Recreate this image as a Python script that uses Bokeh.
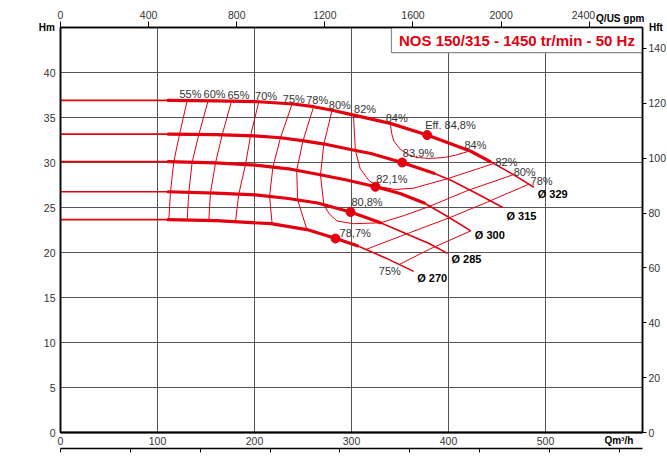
import numpy as np
from bokeh.plotting import figure
from bokeh.models import Range1d, LinearAxis, FixedTicker
from bokeh.core.properties import value
from bokeh.embed import file_html
from bokeh.resources import INLINE

RED = "#e3000f"
FONT = "Liberation Sans"
NB = "\u00a0"

# ---------------- data (Q in m3/h, H in m) ----------------
diameters = ["Ø 329", "Ø 315", "Ø 300", "Ø 285", "Ø 270"]

q_329 = [0, 50, 111, 160, 204, 240, 261, 280, 299, 340, 378, 423, 443, 467, 488]
h_329 = [36.9, 36.9, 36.9, 36.85, 36.75, 36.5, 36.2, 35.8, 35.35, 34.35, 33.05, 31.25, 30.1, 28.65, 27.25]
q_315 = [0, 60, 111, 160, 200, 227, 251, 272, 299, 320, 352, 385, 403, 430, 456]
h_315 = [33.15, 33.15, 33.15, 33.1, 32.95, 32.75, 32.4, 32.05, 31.45, 31.0, 30.0, 28.8, 28.0, 26.5, 25.0]
q_300 = [0, 60, 111, 160, 201, 235, 265, 295, 325, 350, 375, 399, 423]
h_300 = [30.1, 30.1, 30.1, 29.95, 29.7, 29.3, 28.7, 28.05, 27.3, 26.55, 25.5, 24.0, 22.4]
q_285 = [0, 60, 111, 160, 201, 235, 265, 299, 330, 354, 380, 399]
h_285 = [26.75, 26.75, 26.75, 26.6, 26.4, 26.0, 25.5, 24.5, 23.3, 22.2, 21.0, 19.9]
q_270 = [0, 60, 111, 160, 217, 254, 284, 306, 335, 364]
h_270 = [23.65, 23.65, 23.65, 23.55, 23.2, 22.55, 21.55, 20.75, 19.4, 17.9]

curves_q = [q_329, q_315, q_300, q_285, q_270]
curves_h = [h_329, h_315, h_300, h_285, h_270]
thick_from = [111, 111, 111, 111, 111]
thick_to = [443, 385, 375, 330, 306]

# best efficiency points
bep_q = [378, 352.3, 324.7, 299, 283.5]
bep_h = [33.05, 30.0, 27.3, 24.5, 21.55]

# iso-efficiency lines (left side): Q where the line crosses each curve (329..270)
eff_55 = [130.6, 122.7, 116.8, 113.4, 111.7]
eff_60 = [152.2, 142.6, 135.7, 132.3, 130.6]
eff_65 = [176.3, 166.7, 159.8, 154.6, 152.9]
eff_70 = [204.4, 195.9, 190.7, 183.8, 180.4]
eff_75 = [238.8, 226.8, 219.0, 215.5, 218.2]
eff_78 = [261.0, 250.0, 243.5, 244.5, 254.0]
left_iso = [eff_55, eff_60, eff_65, eff_70, eff_75, eff_78]

# closed / right-side iso-efficiency contours
eff80_q = [280, 271.5, 268, 271.5, 277, 285, 302, 330, 354, 380, 420, 467]
eff80_h = [35.8, 32.05, 28.65, 25.3, 24.3, 23.5, 23.2, 23.3, 24.1, 25.1, 26.9, 28.65]
eff82_q = [302, 304, 309, 318, 327, 345, 364, 399, 433, 447]
eff82_h = [35.35, 31.35, 29.3, 28.0, 27.35, 27.0, 27.15, 28.2, 29.4, 29.9]
eff84_q = [340, 341.5, 343.6, 350, 357.5, 367.7, 380, 395, 407, 419.3, 422.7]
eff84_h = [34.35, 33.2, 32.4, 31.5, 30.9, 30.55, 30.45, 30.55, 30.8, 31.2, 31.25]
eff78r_q = [314, 360, 402, 440, 483]
eff78r_h = [20.3, 22.2, 23.9, 25.6, 27.6]
eff75r_q = [349, 381, 423]
eff75r_h = [18.65, 20.4, 22.4]

# efficiency labels
eff_lbl = ["55%", "60%", "65%", "70%", "75%", "78%", "80%", "82%", "84%", "Eff. 84,8%",
           "84%", "83,9%", "82%", "80%", "78%", "82,1%", "80,8%", "78,7%", "75%"]
eff_lbl_q = [134, 158.8, 183.5, 211.9, 240.5, 264.6, 288, 314, 346.6, 402,
             427.8, 369, 459.8, 478.5, 496, 341.6, 316, 303.8, 339.5]
eff_lbl_h = [37.6, 37.6, 37.5, 37.4, 37.1, 36.9, 36.4, 35.9, 35.0, 34.2,
             32.0, 31.1, 30.1, 29.0, 27.9, 28.2, 25.6, 22.2, 18.0]

# diameter labels
dia_q = [492, 459.8, 427.1, 403, 367.7]
dia_h = [26.5, 24.1, 21.9, 19.3, 17.2]

# axes
q_ticks = [0, 100, 200, 300, 400, 500]
q_grid = [100, 200, 300, 400, 500]
h_ticks = [0, 5, 10, 15, 20, 25, 30, 35, 40]
h_grid = [5, 10, 15, 20, 25, 30, 35, 40]
gpm_ticks = [0, 400, 800, 1200, 1600, 2000, 2400]
hft_ticks = [0, 20, 40, 60, 80, 100, 120, 140]
ls_ticks = [0, 20, 40, 60, 80, 100, 120, 140, 160]
Q_MAX, H_MAX = 600, 45
GPM_PER_M3H = 4.40287
FT_PER_M = 3.28084
M3H_PER_LS = 3.6

title = "NOS 150/315 - 1450 tr/min - 50 Hz"
cap_left, cap_right, cap_top, cap_bottom = "Hm", "Hft", "Q/US gpm", "Qm³/h"

# ---------------- figure ----------------
p = figure(width=667, height=459, x_range=Range1d(0, Q_MAX), y_range=Range1d(0, H_MAX),
           output_backend="svg", toolbar_location=None,
           min_border_left=60, min_border_right=25, min_border_top=27, min_border_bottom=27)
p.extra_x_ranges = {"gpm": Range1d(0, Q_MAX * GPM_PER_M3H), "ls": Range1d(0, Q_MAX / M3H_PER_LS)}
p.extra_y_ranges = {"hft": Range1d(0, H_MAX * FT_PER_M)}
p.outline_line_color = "black"
p.outline_line_width = 1.5
p.background_fill_color = "white"


def style(ax, tick_out, standoff, size="10.5px"):
    ax.major_tick_out = tick_out
    ax.major_tick_in = 0
    ax.minor_tick_out = 0
    ax.minor_tick_in = 0
    ax.major_label_standoff = standoff
    ax.major_label_text_font = FONT
    ax.major_label_text_font_size = size
    ax.major_label_text_color = "#333333"
    ax.axis_line_color = "black"
    ax.axis_line_width = 1.5
    ax.major_tick_line_color = "black"


def caption(ax, text, standoff, orientation=None):
    ax.axis_label = text
    ax.axis_label_text_font = FONT
    ax.axis_label_text_font_size = "10px"
    ax.axis_label_text_font_style = "bold"
    ax.axis_label_text_color = "black"
    ax.axis_label_standoff = standoff
    ax.axis_label_align = "end"
    if orientation:
        ax.axis_label_orientation = orientation


xa = p.xaxis[0]
xa.ticker = FixedTicker(ticks=q_ticks)
style(xa, 0, 4)
xa.axis_line_width = 2
caption(xa, cap_bottom + NB * 17, -13)
ya = p.yaxis[0]
ya.ticker = FixedTicker(ticks=h_ticks)
style(ya, 0, 5)
caption(ya, cap_left, -14, "horizontal")

top = LinearAxis(x_range_name="gpm", ticker=FixedTicker(ticks=gpm_ticks))
style(top, 6, 1)
top.major_label_overrides = {2400: "2400" + NB * 4}
caption(top, cap_top + NB * 16, -18)
p.add_layout(top, "above")

right = LinearAxis(y_range_name="hft", ticker=FixedTicker(ticks=hft_ticks))
style(right, 4, 2)
caption(right, cap_right, -20, "horizontal")
p.add_layout(right, "right")

ls_ax = LinearAxis(x_range_name="ls", ticker=FixedTicker(ticks=ls_ticks))
style(ls_ax, 4, 0, size="0px")
ls_ax.major_label_overrides = {t: "" for t in ls_ticks}
p.add_layout(ls_ax, "below")

p.xgrid.ticker = FixedTicker(ticks=q_grid)
p.ygrid.ticker = FixedTicker(ticks=h_grid)
for g in (p.xgrid, p.ygrid):
    g.grid_line_color = "#555555"
    g.grid_line_width = 1

# ---------------- efficiency lines ----------------
for qs in left_iso:
    hs = [float(np.interp(q, cq, ch)) for q, cq, ch in zip(qs, curves_q, curves_h)]
    p.line(qs, hs, line_color=RED, line_width=1)
for qs, hs in [(eff80_q, eff80_h), (eff82_q, eff82_h), (eff84_q, eff84_h),
               (eff78r_q, eff78r_h), (eff75r_q, eff75r_h)]:
    p.line(qs, hs, line_color=RED, line_width=1)

# ---------------- pump curves ----------------
for cq, ch, a, b in zip(curves_q, curves_h, thick_from, thick_to):
    p.line(cq, ch, line_color=RED, line_width=1.6, line_join="round")
    cqa = np.array(cq)
    m = (cqa >= a) & (cqa <= b)
    p.line(list(cqa[m]), list(np.array(ch)[m]), line_color=RED, line_width=3.2,
           line_join="round", line_cap="round")

p.scatter(bep_q, bep_h, size=9, color=RED)

# ---------------- texts ----------------
p.text(eff_lbl_q, eff_lbl_h, text=eff_lbl, text_font=value(FONT), text_font_size=value("11px"),
       text_color="#333333", text_align="center", text_baseline="middle")
p.text(dia_q, dia_h, text=diameters, text_font=value(FONT), text_font_size=value("11px"),
       text_font_style="bold", text_color="black", text_align="left", text_baseline="middle")

# title box
p.quad(left=[341.2], right=[Q_MAX], bottom=[42.2], top=[H_MAX], fill_color="white",
       line_color="#8a8a8a", line_width=1.2)
p.text([470.6], [43.6], text=[title], text_font=value(FONT), text_font_size=value("15px"),
       text_font_style="bold", text_color=RED, text_align="center", text_baseline="middle")

open("out.html", "w").write(file_html(p, INLINE))
